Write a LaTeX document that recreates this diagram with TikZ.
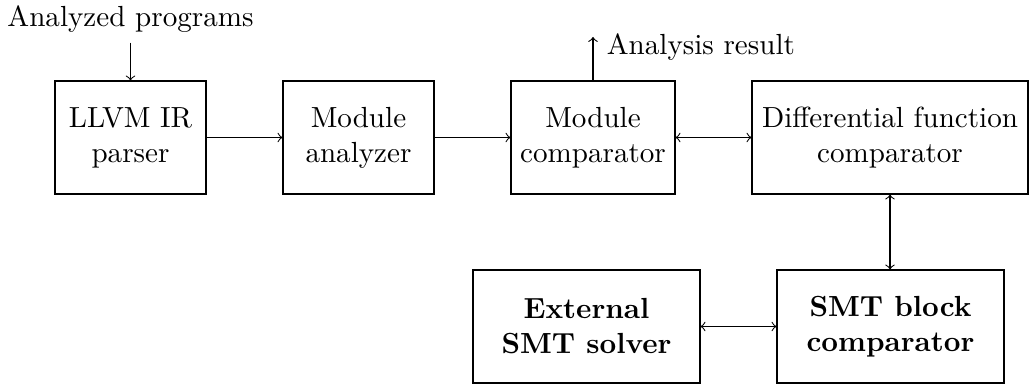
\documentclass[tikz,border=0pt]{standalone}
\usepackage{fontspec}
\setmainfont{Latin Modern Roman}
\begin{document}
\begin{tikzpicture}[
  x=0.012987cm, y=-0.012987cm,
  font=\fontsize{10.75}{12.9}\selectfont,
  block/.style={draw, align=center, inner sep=0pt, minimum height=1.4675cm},
  narrowblock/.style={block, minimum width=1.961cm},
  wideblock/.style={block, minimum width=2.948cm, font=\fontsize{10.75}{12.9}\selectfont\bfseries},
  flow/.style={->},
  link/.style={<->}
]
\useasboundingbox (0,0) rectangle (1030,385);

% processing chain
\node[narrowblock] (parser)   at (130.5,137.5) {LLVM IR\\parser};
\node[narrowblock] (analyzer) at (358.5,137.5) {Module\\analyzer};
\node[block, minimum width=2.13cm]  (modcmp) at (593,137.5) {Module\\comparator};
\node[block, minimum width=3.584cm] (diffcmp) at (890,137.5) {Differential function\\comparator};
\node[wideblock] (smtcmp) at (890.5,326.5) {SMT block\\comparator};
\node[wideblock] (solver) at (586.5,326.5) {External\\SMT solver};

% input and output labels
\node[anchor=base] (input) at (130.5,27) {Analyzed programs};
\coordinate (restip) at (593,37);
\node[anchor=base west] (result) at (597.3,55) {Analysis result};

% connections
\draw[flow] (input.south) -- (parser.north);
\draw[flow] (parser.east) -- (analyzer.west);
\draw[flow] (analyzer.east) -- (modcmp.west);
\draw[flow] (modcmp.north) -- (restip);
\draw[link] (modcmp.east) -- (diffcmp.west);
\draw[link] (diffcmp.south) -- (diffcmp.south |- smtcmp.north);
\draw[link] (solver.east) -- (smtcmp.west);
\end{tikzpicture}
\end{document}
